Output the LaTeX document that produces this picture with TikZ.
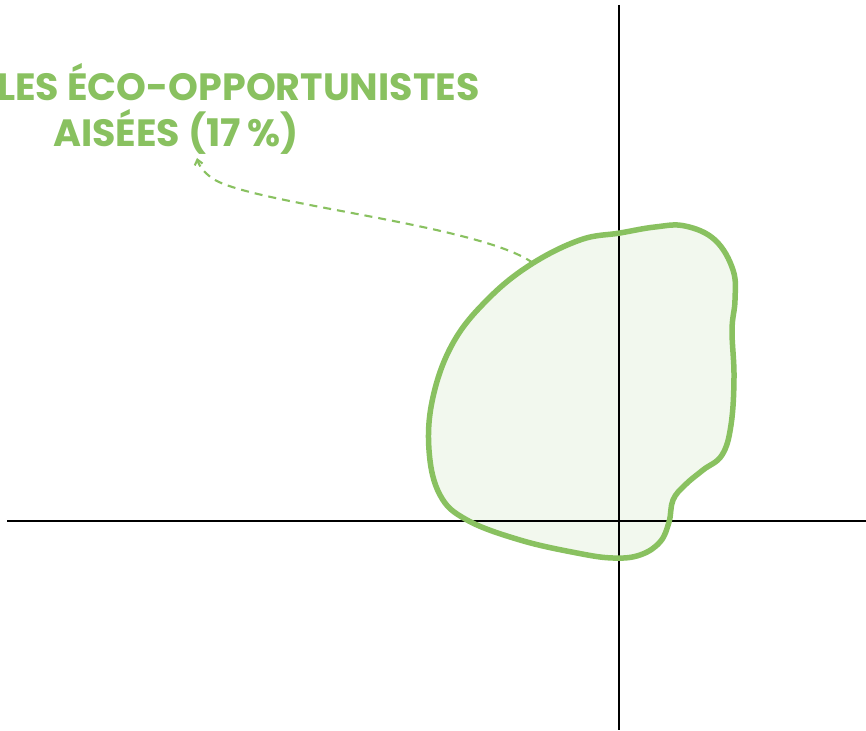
\documentclass[tikz,border=0pt]{standalone}
\usepackage{fontspec}
\setmainfont{Poppins}
\usetikzlibrary{arrows.meta}
\definecolor{grn}{RGB}{137,193,96}
\tikzset{
  axis/.style={line width=2.8pt, black},
  outline/.style={line width=5.5pt, grn},
  lbl/.style={text=grn, font=\bfseries\fontsize{38}{44}\selectfont, inner sep=0pt, anchor=base west},
  pointer/.style={grn, line width=2.1pt, dash pattern=on 8pt off 6pt, -{Straight Barb[length=5pt,width=8pt]}}
}
\begin{document}
\begin{tikzpicture}[x=1pt,y=-1pt]
\useasboundingbox (0,0) rectangle (866,730);
\path[fill=white] (0,0) rectangle (866,730);
% blob fill
\fill[grn, opacity=0.1] plot[smooth cycle, tension=0.65] coordinates {
(620,233) (655,227) (685,226) (715,240) (733,270) (735,300) (732,330) (734,377) (731,425) (722,455) (703,470) (685,485) (673,500) (669,522) (660,542) (640,555) (613,558) (577,553) (520,540) (467,520) (440,495) (429,450) (433,397) (453,343) (487,300) (530,265) (580,240)};
% axes
\coordinate (hl) at (7,521);
\coordinate (hr) at (866,521);
\coordinate (vt) at (619,5);
\coordinate (vb) at (619,730);
\draw[axis] (hl) -- (hr);
\draw[axis] (vt) -- (vb);
% blob outline
\draw[outline] plot[smooth cycle, tension=0.65] coordinates {
(620,233) (655,227) (685,226) (715,240) (733,270) (735,300) (732,330) (734,377) (731,425) (722,455) (703,470) (685,485) (673,500) (669,522) (660,542) (640,555) (613,558) (577,553) (520,540) (467,520) (440,495) (429,450) (433,397) (453,343) (487,300) (530,265) (580,240)};
\coordinate (edge) at (533,263);
% labels
\node[lbl] (l1) at (-3,101) {LES ÉCO-OPPORTUNISTES};
\node[lbl] (l2) at (53,147) {AISÉES (17\,\%)};
\coordinate (tip) at (197,158);
\draw[pointer] (edge) .. controls (480,225) and (260,205) .. (215,180) .. controls (205,174) and (199,166) .. (tip);
\end{tikzpicture}
\end{document}
